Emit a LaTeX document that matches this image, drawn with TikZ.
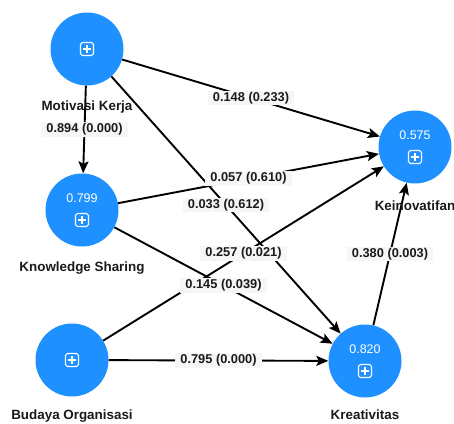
\documentclass[tikz,border=0pt]{standalone}
\usepackage{fontspec}
\setmainfont{Liberation Sans}
\usetikzlibrary{arrows.meta}
\definecolor{lvblue}{RGB}{30,144,255}
\definecolor{lblbg}{RGB}{246,246,246}
\definecolor{ink}{RGB}{26,26,26}
\tikzset{
  expander/.pic={
    \draw[white,line width=1.1pt,rounded corners=1.8pt] (-6.5,-6.5) rectangle (6.5,6.5);
    \draw[white,line width=1.1pt] (-3.8,0) -- (3.8,0) (0,-3.8) -- (0,3.8);
  }
}
\begin{document}
\begin{tikzpicture}[x=1pt,y=-1pt,
  latent/.style={circle,fill=lvblue,minimum size=73pt,inner sep=0pt},
  lvname/.style={font=\bfseries\fontsize{13.4}{15}\selectfont,text=ink,inner sep=0pt,anchor=base},
  rsq/.style={font=\fontsize{12.5}{14}\selectfont,text=white,inner sep=0pt},
  link/.style={line width=1.9pt,draw=black,-{Stealth[length=12pt,width=10pt,inset=2.5pt]}},
  coef/.style={fill=lblbg,font=\bfseries\fontsize{12.8}{14}\selectfont,text=ink,inner xsep=5pt,inner ysep=1.4pt}
]
\useasboundingbox (0,0) rectangle (454,423);

% latent variables
\node[latent] (mk)  at (87,49)   {};
\node[latent] (ks)  at (82,210)  {};
\node[latent] (bo)  at (72,360)  {};
\node[latent] (kei) at (415,147) {};
\node[latent] (kre) at (365,361) {};

% R-square values and expander icons
\node[rsq] (ksr)  at ([yshift=12pt]ks.center)  {0.799};
\node[rsq] (keir) at ([yshift=12pt]kei.center) {0.575};
\node[rsq] (krer) at ([yshift=12pt]kre.center) {0.820};
\pic at (mk.center) {expander};
\pic at (bo.center) {expander};
\pic at ([yshift=-10pt]ks.center) {expander};
\pic at ([yshift=-10pt]kei.center) {expander};
\pic at ([yshift=-10pt]kre.center) {expander};

% structural paths
\draw[link] (mk) -- (ks);
\draw[link] (mk) -- (kei);
\draw[link] (mk) -- (kre);
\draw[link] (ks) -- (kei);
\draw[link] (ks) -- (kre);
\draw[link] (bo) -- (kei);
\draw[link] (bo) -- (kre);
\draw[link] (kre) -- (kei);

% path coefficients (p-values)
\path (mk) -- (ks)   node[coef,midway] (c1) {0.894 (0.000)};
\path (mk) -- (kei)  node[coef,midway] (c2) {0.148 (0.233)};
\path (ks) -- (kei)  node[coef,midway] (c3) {0.057 (0.610)};
\path (mk) -- (kre)  node[coef,midway] (c4) {0.033 (0.612)};
\path (bo) -- (kei)  node[coef,midway] (c5) {0.257 (0.021)};
\path (ks) -- (kre)  node[coef,midway] (c6) {0.145 (0.039)};
\path (bo) -- (kre)  node[coef,midway] (c7) {0.795 (0.000)};
\path (kre) -- (kei) node[coef,midway] (c8) {0.380 (0.003)};

% construct names
\node[lvname] (mkn)  at (87,110)  {Motivasi Kerja};
\node[lvname] (ksn)  at (82,271)  {Knowledge Sharing};
\node[lvname] (bon)  at (72,419)  {Budaya Organisasi};
\node[lvname] (kein) at (415,210) {Keinovatifan};
\node[lvname] (kren) at (365,419) {Kreativitas};
\end{tikzpicture}
\end{document}
